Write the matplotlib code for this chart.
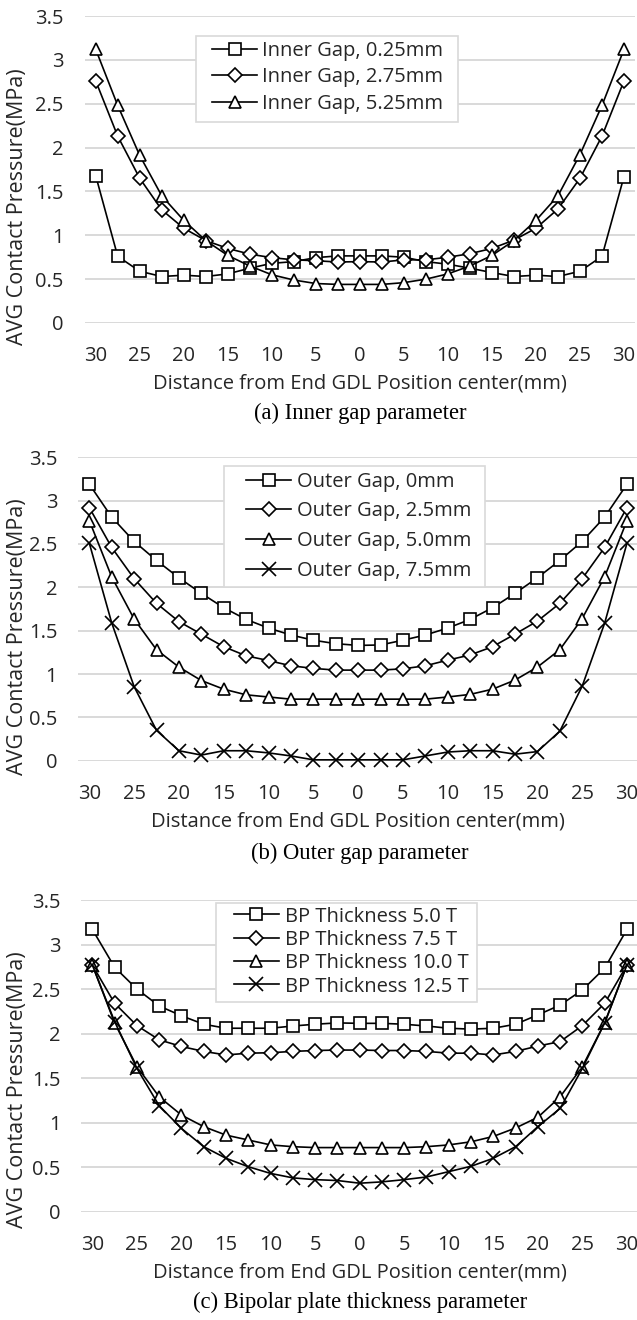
import matplotlib
matplotlib.use('Agg')
import matplotlib.pyplot as plt
from matplotlib.patches import Rectangle

# ---------------- data ----------------
positions = [-30, -27.5, -25, -22.5, -20, -17.5, -15, -12.5, -10, -7.5, -5, -2.5, 0,
             2.5, 5, 7.5, 10, 12.5, 15, 17.5, 20, 22.5, 25, 27.5, 30]
tick_positions = [-30, -25, -20, -15, -10, -5, 0, 5, 10, 15, 20, 25, 30]
tick_labels = ['30', '25', '20', '15', '10', '5', '0', '5', '10', '15', '20', '25', '30']
y_ticks = [0, 0.5, 1, 1.5, 2, 2.5, 3, 3.5]
y_tick_labels = ['0', '0.5', '1', '1.5', '2', '2.5', '3', '3.5']

# (a) inner gap
inner_labels = ['Inner Gap, 0.25mm', 'Inner Gap, 2.75mm', 'Inner Gap, 5.25mm']
inner_025 = [1.68, 0.76, 0.59, 0.53, 0.545, 0.53, 0.56, 0.625, 0.68, 0.70, 0.745, 0.765, 0.765,
             0.765, 0.75, 0.70, 0.67, 0.625, 0.575, 0.53, 0.545, 0.53, 0.59, 0.76, 1.67]
inner_275 = [2.76, 2.13, 1.65, 1.29, 1.08, 0.94, 0.85, 0.785, 0.745, 0.72, 0.71, 0.695, 0.70,
             0.695, 0.72, 0.72, 0.75, 0.79, 0.85, 0.945, 1.08, 1.30, 1.65, 2.13, 2.76]
inner_525 = [3.12, 2.48, 1.91, 1.45, 1.17, 0.94, 0.77, 0.65, 0.55, 0.49, 0.45, 0.44, 0.44,
             0.44, 0.46, 0.50, 0.56, 0.65, 0.77, 0.94, 1.17, 1.45, 1.92, 2.48, 3.12]

# (b) outer gap
outer_labels = ['Outer Gap, 0mm', 'Outer Gap, 2.5mm', 'Outer Gap, 5.0mm', 'Outer Gap, 7.5mm']
outer_00 = [3.19, 2.81, 2.53, 2.31, 2.11, 1.93, 1.765, 1.63, 1.53, 1.45, 1.39, 1.35, 1.33,
            1.335, 1.39, 1.45, 1.53, 1.63, 1.765, 1.93, 2.11, 2.31, 2.53, 2.81, 3.19]
outer_25 = [2.92, 2.46, 2.10, 1.815, 1.605, 1.46, 1.315, 1.21, 1.155, 1.095, 1.065, 1.045, 1.045,
            1.045, 1.06, 1.095, 1.16, 1.22, 1.315, 1.46, 1.61, 1.815, 2.10, 2.46, 2.92]
outer_50 = [2.77, 2.12, 1.635, 1.28, 1.08, 0.925, 0.825, 0.76, 0.735, 0.71, 0.71, 0.71, 0.71,
            0.71, 0.71, 0.71, 0.735, 0.765, 0.825, 0.93, 1.08, 1.28, 1.64, 2.12, 2.77]
outer_75 = [2.51, 1.59, 0.855, 0.35, 0.115, 0.065, 0.115, 0.115, 0.09, 0.055, 0.01, 0.01, 0.01,
            0.01, 0.01, 0.055, 0.10, 0.115, 0.115, 0.075, 0.105, 0.34, 0.86, 1.585, 2.51]

# (c) bipolar plate thickness
bp_labels = ['BP Thickness 5.0 T', 'BP Thickness 7.5 T', 'BP Thickness 10.0 T', 'BP Thickness 12.5 T']
bp_50 = [3.17, 2.745, 2.50, 2.31, 2.20, 2.105, 2.06, 2.06, 2.06, 2.085, 2.105, 2.12, 2.115,
         2.115, 2.105, 2.085, 2.06, 2.05, 2.06, 2.105, 2.21, 2.32, 2.49, 2.735, 3.17]
bp_75 = [2.77, 2.34, 2.09, 1.93, 1.855, 1.80, 1.76, 1.78, 1.785, 1.80, 1.81, 1.815, 1.815,
         1.81, 1.81, 1.80, 1.78, 1.78, 1.76, 1.80, 1.86, 1.91, 2.09, 2.34, 2.77]
bp_100 = [2.77, 2.12, 1.63, 1.29, 1.085, 0.955, 0.86, 0.805, 0.75, 0.73, 0.72, 0.72, 0.72,
          0.72, 0.72, 0.73, 0.75, 0.785, 0.845, 0.94, 1.06, 1.29, 1.63, 2.12, 2.77]
bp_125 = [2.77, 2.135, 1.61, 1.19, 0.935, 0.73, 0.60, 0.505, 0.43, 0.38, 0.36, 0.35, 0.32,
          0.335, 0.36, 0.39, 0.45, 0.51, 0.60, 0.73, 0.955, 1.16, 1.61, 2.12, 2.77]

captions = ['(a) Inner gap parameter', '(b) Outer gap parameter',
            '(c) Bipolar plate thickness parameter']
x_title = 'Distance from End GDL Position center(mm)'
y_title = 'AVG Contact Pressure(MPa)'

# ---------------- style ----------------
SANS = ['Open Sans', 'DejaVu Sans']
SERIF = ['Liberation Serif', 'DejaVu Serif']
plt.rcParams['font.family'] = SANS
FS = 14.5
TXT = '#262626'
GRID = '#d9d9d9'

W, H = 637, 1320
fig = plt.figure(figsize=(W / 100, H / 100), dpi=100)
fig.patch.set_facecolor('white')

markers = ['s', 'D', '^', 'x']
msizes = [8.5, 7, 9, 10.5]


def rect(l, r, t, b):
    return [l / W, 1 - b / H, (r - l) / W, (b - t) / H]


panels = [
    dict(rect=rect(84.7, 635.0, 16.0, 323.0), series=[inner_025, inner_275, inner_525],
         labels=inner_labels, frame=(0.2023, 0.6547, 0.4761, 0.2801),
         anchor=(0.2313, 0.920), legspace=0.34, textpad=0.25, ylab_y=0.38, cap_y=413),
    dict(rect=rect(78.1, 638.2, 457.3, 760.7), series=[outer_00, outer_25, outer_50, outer_75],
         labels=outer_labels, frame=(0.2605, 0.5725, 0.466, 0.3988),
         anchor=(0.2998, 0.953), legspace=0.48, textpad=0.3, ylab_y=0.41, cap_y=853),
    dict(rect=rect(81.2, 638.1, 900.0, 1211.7), series=[bp_50, bp_75, bp_100, bp_125],
         labels=bp_labels, frame=(0.242, 0.6728, 0.4687, 0.3176),
         anchor=(0.2735, 0.979), legspace=0.165, textpad=0.3, ylab_y=0.39, cap_y=1302),
]

for p in panels:
    ax = fig.add_axes(p['rect'])
    axw = p['rect'][2] * W
    for i, (vals, lab) in enumerate(zip(p['series'], p['labels'])):
        ax.plot(positions, vals, color='black', lw=1.2, marker=markers[i],
                markersize=msizes[i], markerfacecolor='white', markeredgecolor='black',
                markeredgewidth=1.2, label=lab, clip_on=False, zorder=3 + i)
    ax.set_xlim(-31.25, 31.25)
    ax.set_ylim(0, 3.5)
    ax.set_xticks(tick_positions)
    ax.set_xticklabels(tick_labels)
    ax.set_yticks(y_ticks)
    ax.set_yticklabels(y_tick_labels)
    ax.tick_params(axis='both', length=0, labelsize=FS, colors=TXT)
    ax.tick_params(axis='x', pad=16.5)
    ax.tick_params(axis='y', pad=15)
    for s in ax.spines.values():
        s.set_visible(False)
    ax.yaxis.grid(True, color=GRID, lw=1.4)
    ax.set_axisbelow(True)
    ax.set_xlabel(x_title, fontsize=FS, color=TXT, labelpad=5.5)
    ax.set_ylabel(y_title, fontsize=15.5, color=TXT)
    ax.yaxis.set_label_coords((28.0 - p['rect'][0] * W) / axw, p['ylab_y'])

    fx, fy, fw, fh = p['frame']
    ax.add_patch(Rectangle((fx, fy), fw, fh, transform=ax.transAxes, facecolor='white',
                           edgecolor=GRID, lw=1.2, zorder=9, clip_on=False))
    leg = ax.legend(loc='upper left', bbox_to_anchor=p['anchor'], borderaxespad=0,
                    borderpad=0, fontsize=FS, frameon=False, handlelength=2.24,
                    handletextpad=p['textpad'], labelspacing=p['legspace'])
    for t in leg.get_texts():
        t.set_color(TXT)
    leg.set_zorder(10)

for p, cap in zip(panels, captions):
    fig.text(360 / W, 1 - p['cap_y'] / H, cap, ha='center', va='center',
             fontsize=16.3, family=SERIF, color='black')

fig.savefig('out.png', dpi=100, facecolor='white')
